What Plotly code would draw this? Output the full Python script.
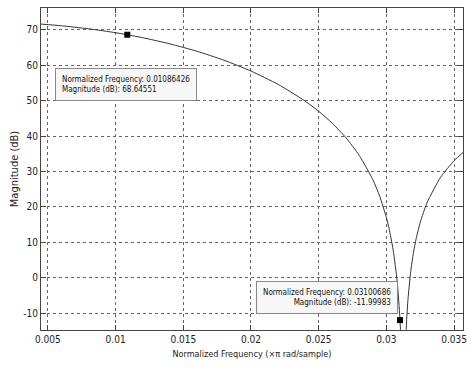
import plotly.graph_objects as go

# Normalized frequency (x pi rad/sample) and magnitude (dB)
freq_left = [0.0045, 0.006, 0.008, 0.010, 0.01086, 0.012, 0.014, 0.016, 0.018, 0.020,
             0.022, 0.024, 0.025, 0.026, 0.027, 0.028, 0.029, 0.0295, 0.030, 0.0302,
             0.0305, 0.0308, 0.031, 0.0311, 0.0312]
mag_left = [71.65, 71.18, 70.33, 69.22, 68.65, 67.81, 66.08, 63.98, 61.45, 58.38,
            54.62, 49.89, 47.01, 43.64, 39.60, 34.53, 27.69, 23.09, 17.00, 13.86,
            7.86, -1.17, -11.49, -20.42, -39.6]
freq_right = [0.0313, 0.0314, 0.0315, 0.0316, 0.0318, 0.032, 0.0322, 0.0325, 0.033,
              0.034, 0.035, 0.0357]
mag_right = [-39.6, -20.58, -11.76, -5.97, 1.76, 7.03, 11.02, 15.61, 21.14,
             28.34, 33.03, 35.49]

tip_freq = [0.01086426, 0.03100686]
tip_mag = [68.64551, -11.99983]

x_ticks = [0.005, 0.01, 0.015, 0.02, 0.025, 0.03, 0.035]
x_labels = ["0.005", "0.01", "0.015", "0.02", "0.025", "0.03", "0.035"]
y_ticks = [-10, 0, 10, 20, 30, 40, 50, 60, 70]
y_labels = ["-10", "0", "10", "20", "30", "40", "50", "60", "70"]

FONT = "Liberation Sans Narrow, DejaVu Sans Condensed, Arial Narrow, sans-serif"

fig = go.Figure()
for fx, my in ((freq_left, mag_left), (freq_right, mag_right)):
    fig.add_trace(go.Scatter(x=fx, y=my, mode="lines",
                             line=dict(color="#333333", width=1, shape="spline", smoothing=0.6),
                             showlegend=False, hoverinfo="skip"))
fig.add_trace(go.Scatter(x=tip_freq, y=tip_mag, mode="markers",
                         marker=dict(symbol="square", size=6, color="black"),
                         showlegend=False))

axis_common = dict(showline=True, linecolor="#444444", linewidth=1, mirror="allticks",
                   ticks="inside", ticklen=5, tickcolor="#444444",
                   showgrid=True, gridcolor="#666666", griddash="dot", gridwidth=1,
                   zeroline=False, tickfont=dict(family=FONT, size=10, color="#222222"))

fig.update_xaxes(range=[0.00449, 0.03566], tickvals=x_ticks, ticktext=x_labels,
                 title=dict(text="Normalized Frequency (×π rad/sample)",
                            font=dict(family=FONT, size=9, color="#222222"), standoff=6),
                 **axis_common)
fig.update_yaxes(range=[-14.8, 76.2], tickvals=y_ticks, ticktext=y_labels,
                 title=dict(text="Magnitude (dB)",
                            font=dict(family=FONT, size=11, color="#222222"), standoff=2),
                 **axis_common)

fig.add_annotation(x=0.0055, y=54.7, xref="x", yref="y", xanchor="left", yanchor="middle",
                   text="Normalized Frequency: 0.01086426<br>Magnitude (dB): 68.64551",
                   showarrow=False, align="left",
                   font=dict(family=FONT, size=8, color="#111111"),
                   bgcolor="#f7f7f7", bordercolor="#888888", borderwidth=1, borderpad=6)
fig.add_annotation(x=0.03085, y=-5.5, xref="x", yref="y", xanchor="right", yanchor="middle",
                   text="Normalized Frequency: 0.03100686<br>Magnitude (dB): -11.99983",
                   showarrow=False, align="right",
                   font=dict(family=FONT, size=8, color="#111111"),
                   bgcolor="#f7f7f7", bordercolor="#888888", borderwidth=1, borderpad=6)

fig.update_layout(width=471, height=368, margin=dict(l=41, r=4, t=8, b=38),
                  plot_bgcolor="white", paper_bgcolor="white",
                  font=dict(family=FONT))
fig.write_html("out.html")
